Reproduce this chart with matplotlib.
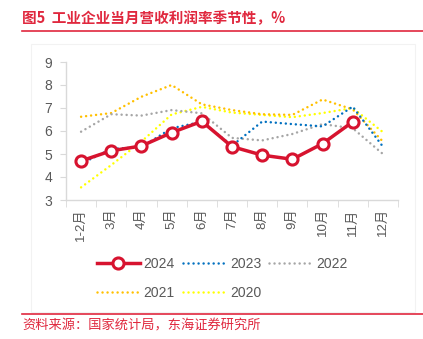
import matplotlib.pyplot as plt
from matplotlib.patches import Rectangle
from matplotlib.lines import Line2D

plt.rcParams['font.family'] = ['Liberation Sans', 'Noto Sans CJK SC', 'DejaVu Sans']

months = ['1-2月', '3月', '4月', '5月', '6月', '7月', '8月', '9月', '10月', '11月', '12月']
y2024 = [4.70, 5.14, 5.35, 5.93, 6.42, 5.32, 4.95, 4.77, 5.45, 6.40]
y2023 = [4.58, 5.22, 5.30, 6.12, 6.40, 5.36, 6.41, 6.30, 6.20, 7.06, 5.32]
y2022 = [5.97, 6.73, 6.67, 6.91, 6.77, 5.70, 5.59, 5.87, 6.30, 6.12, 5.00]
y2021 = [6.62, 6.78, 7.49, 8.00, 7.16, 6.91, 6.73, 6.70, 7.37, 6.94, 5.54]
y2020 = [3.55, 4.52, 5.54, 6.72, 7.05, 6.80, 6.70, 6.60, 6.78, 7.00, 5.95]

red = '#D7132F'
title_red = '#E0283E'
grey_txt = '#595959'

fig = plt.figure(figsize=(4.23, 3.39), dpi=100)

# faint frame around the chart block
fig.patches.append(Rectangle((31 / 423, 1 - 312 / 339), 384 / 423, 268 / 339,
                             transform=fig.transFigure, fill=False,
                             edgecolor='#F2F2F2', linewidth=0.8))

ax = fig.add_axes([66 / 423, 1 - 200 / 339, 332 / 423, 138 / 339])
x = list(range(len(months)))

# round dots spaced about 5px apart
dot = (0, (0.01, 2.0))
kw = dict(lw=1.8, ls=dot, dash_capstyle='round')
ax.plot(x, y2020, color='#FFFF00', label='2020', zorder=2, **kw)
ax.plot(x, y2021, color='#FFC000', label='2021', zorder=2, **kw)
ax.plot(x, y2022, color='#A6A6A6', label='2022', zorder=2, **kw)
ax.plot(x, y2023, color='#0070C0', label='2023', zorder=3, **kw)
ax.plot(x[:len(y2024)], y2024, color=red, lw=2.5, marker='o', ms=8,
        mfc='white', mec=red, mew=2.2, label='2024', zorder=4)

ax.set_xlim(-0.5, len(months) - 0.5)
ax.set_ylim(3, 9)
ax.set_yticks(range(3, 10))
ax.set_xticks(x)
ax.set_xticklabels(months, rotation=90)
ax.set_xticks([i - 0.5 for i in range(len(months) + 1)], minor=True)
ax.tick_params(axis='x', which='major', length=0, pad=6, labelsize=9.5, colors=grey_txt)
ax.tick_params(axis='x', which='minor', length=5, color='#D9D9D9')
ax.tick_params(axis='y', length=4, color='#D9D9D9', labelsize=10, colors=grey_txt, pad=6)
for s in ['top', 'right']:
    ax.spines[s].set_visible(False)
for s in ['left', 'bottom']:
    ax.spines[s].set_color('#D9D9D9')
    ax.spines[s].set_linewidth(1.0)

handles, labels = ax.get_legend_handles_labels()
# legend fills column-wise: 2024/2021, 2023/2020, 2022
order = [4, 1, 3, 0, 2]
leg = fig.legend([handles[i] for i in order], [labels[i] for i in order],
                 loc='upper left', bbox_to_anchor=(84 / 423, 1 - 244 / 339),
                 ncol=3, frameon=False, fontsize=10, handlelength=3.1,
                 handletextpad=0.3, columnspacing=0.55, labelspacing=1.1)
for t in leg.get_texts():
    t.set_color(grey_txt)

# title and source with red rules
fig.text(22 / 423, 1 - 18 / 339, '图5  工业企业当月营收利润率季节性，%', color=title_red,
         fontsize=10.5, fontweight='bold', va='center', ha='left',
         family=['Noto Sans CJK SC', 'DejaVu Sans'])
fig.add_artist(Line2D([22 / 423, 1.0], [1 - 31 / 339, 1 - 31 / 339], color=title_red, lw=1.2))
fig.add_artist(Line2D([22 / 423, 1.0], [1 - 314 / 339, 1 - 314 / 339], color=title_red, lw=1.2))
fig.text(22 / 423, 1 - 326 / 339, '资料来源：国家统计局，东海证券研究所', color=title_red,
         fontsize=9.5, va='center', ha='left', family=['Noto Sans CJK SC', 'DejaVu Sans'])

fig.savefig('out.png', dpi=100)
